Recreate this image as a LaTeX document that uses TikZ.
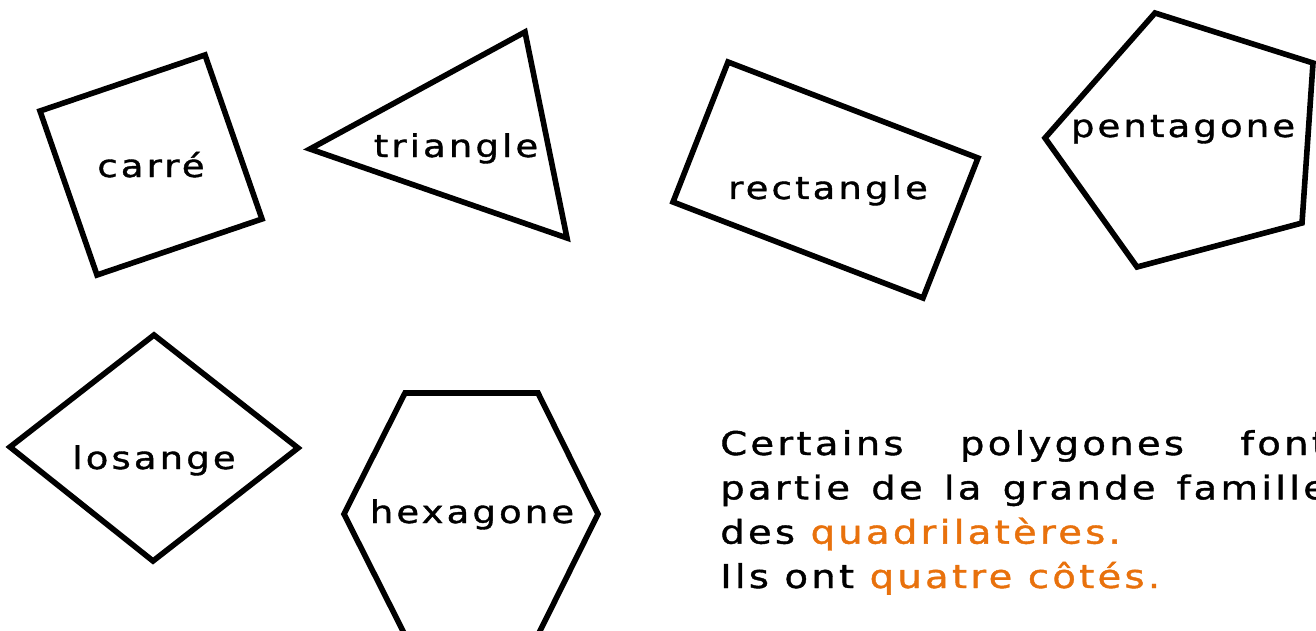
\documentclass[tikz,border=0pt]{standalone}
\usepackage{fontspec}
\usepackage{xcolor}
\setmainfont{DejaVu Sans}
\newfontfamily\roundfont[FakeStretch=1.18, LetterSpace=10, FakeBold=1.2]{DejaVu Sans}
\definecolor{quadorange}{RGB}{232,113,12}
\usetikzlibrary{positioning}

\begin{document}
\begin{tikzpicture}[x=0.75pt, y=-0.75pt, polygon/.style={draw, line width=4.2pt}, shapename/.style={font=\roundfont\fontsize{23.5}{27}\selectfont, inner sep=0pt, anchor=base}]
  \useasboundingbox (0,0) rectangle (1316,631);
  \clip (0,0) rectangle (1316,631);

  \draw [polygon] (40,111) -- (205,55) -- (262,219) -- (97,275) -- cycle;
  \draw [polygon] (310,149) -- (525,32) -- (567,238) -- cycle;
  \draw [polygon] (728,62) -- (978,158) -- (923,298) -- (673,202) -- cycle;
  \draw [polygon] (1155,13) -- (1313,63) -- (1302,223) -- (1137,267) -- (1045,138) -- cycle;
  \draw [polygon] (154,335) -- (298,448) -- (153,561) -- (10,447) -- cycle;
  \draw [polygon] (405,393) -- (538,393) -- (598,514) -- (538,635) -- (405,635) -- (344,514) -- cycle;

  \node (lbl_carre) [shapename] at (151,177) {carré};
  \node (lbl_triangle) [shapename] at (456,157) {triangle};
  \node (lbl_rectangle) [shapename] at (828,199) {rectangle};
  \node (lbl_pentagone) [shapename] at (1183,137) {pentagone};
  \node (lbl_losange) [shapename] at (154,469) {losange};
  \node (lbl_hexagone) [shapename] at (472,523) {hexagone};

  \node (quad_note) [inner sep=0pt, anchor=base west, text width=455pt, align=justify, font=\roundfont\fontsize{24.5}{33.25}\selectfont] at (720,455)
    {Certains polygones font\linebreak partie de la grande famille\linebreak des \textcolor{quadorange}{quadrilatères.}\\Ils ont \textcolor{quadorange}{quatre côtés.}};
\end{tikzpicture}
\end{document}
